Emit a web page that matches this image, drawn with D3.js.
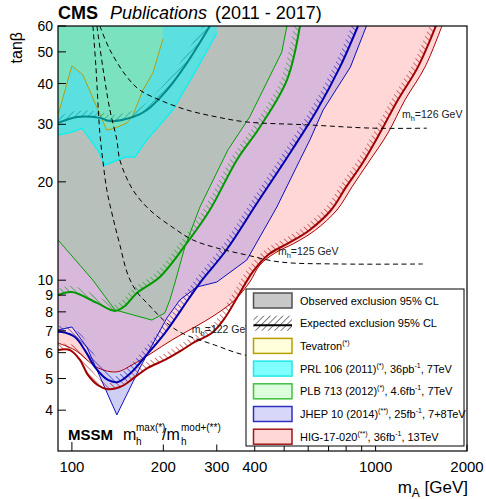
<!DOCTYPE html>
<html>
<head>
<meta charset="utf-8">
<script src="https://cdn.jsdelivr.net/npm/d3@7"></script>
<style>
  body { margin: 0; background: #fff; }
  svg { display: block; font-family: "Liberation Sans", Arial, Helvetica, sans-serif; }
</style>
</head>
<body>
<svg id="chart" width="486" height="499"></svg>
<script>
// ---------- axis ticks ----------
const xMajorTicks = [100, 1000];
const xMinorTicks = [200, 300, 400, 500, 600, 700, 800, 900, 2000];
const xTickLabels = [100, 200, 300, 400, 1000, 2000];
const yTickValues = [4, 5, 6, 7, 8, 9, 10, 20, 30, 40, 50, 60];

// ---------- exclusion contours: [mA (GeV), tanβ] ----------
// HIG-17-020, 36 fb-1, 13 TeV
const higObs = [[90,6.42],[102.3,6.11],[121.8,5.39],[140.6,5.24],[157.6,5.50],[183.4,5.99],[213.4,6.56],[254,7.19],[295.5,7.82],[344,8.70],[385,9.87],[416,11.13],[466,12.11],[542,13.0],[631,14.2],[746,16.4],[836,19.3],[943,22.8],[1098,28.2],[1249,35.6],[1454,44.9],[1654,60]];
const higExp = [[90,6.11],[98.5,6.11],[106.3,5.70],[112.9,5.13],[121.8,4.77],[131.4,4.64],[146.1,4.74],[161.2,5.05],[177.9,5.39],[202.4,5.70],[230.2,6.11],[254,6.47],[288.9,6.89],[318.8,7.66],[357.3,9.14],[394.1,10.6],[445,12.0],[518,13.0],[604,14.2],[714,16.4],[800,19.3],[905,22.8],[1033,28.2],[1184,35.6],[1378,44.9],[1580,60]];
// JHEP 10 (2014), 25 fb-1, 7+8 TeV
const jhepObs = [[90,7.04],[100,7.19],[112,6.24],[140.6,3.87],[167.4,5.39],[187.6,6.56],[205.5,7.66],[226.7,8.70],[257.9,9.53],[300,9.87],[376.7,11.53],[473,16.75],[563,23.3],[608,26.9],[672,33.2],[826,44.9],[933,60]];
const jhepExp = [[90,6.94],[92.7,6.94],[102.3,6.70],[110.3,6.11],[119.1,5.42],[131.4,4.95],[141.7,4.88],[157.6,5.24],[173.9,5.82],[202.4,6.89],[241,8.70],[263.8,9.80],[322.6,12.37],[406.7,17.2],[530,25.0],[641.5,33.2],[763,44.9],[875,60]];
// PLB 713 (2012), 4.6 fb-1, 7 TeV
const plbObs = [[90,13.28],[117.3,10.0],[138.5,8.11],[183.4,7.55],[202.4,7.94],[210.2,8.70],[218.3,9.80],[235.5,12.64],[264,16.75],[326,25.0],[385,31.6],[491,49.9],[510.5,60]];
const plbExp = [[90,9.01],[100,9.20],[120.9,8.52],[138.5,8.05],[149.5,8.34],[163.7,9.14],[194.8,10.23],[239.1,13.0],[284.6,16.4],[349,23.3],[415.6,29.4],[510.5,41.0],[563.5,60]];
// PRL 106 (2011), 36 pb-1, 7 TeV
const prlObs = [[90,27.8],[100,28.4],[107.9,29.2],[121.8,25.0],[128.4,22.5],[149.5,23.8],[161.2,23.8],[176.6,26.9],[215,33.2],[259.8,44.9],[300,57.1],[300,60]];
const prlExp = [[90,30.3],[103.9,31.6],[123.6,31.4],[133.4,30.7],[158.8,31.6],[176.6,33.2],[205.5,38.2],[239.1,46.2],[284.6,60]];
// Tevatron
const tevObs = [[90,32.0],[100,45.3],[108.7,42.5],[130.3,28.8],[138.5,29.2],[151.8,30.3],[158.8,32.0],[171.3,38.2],[184.8,43.1],[199.3,54.7],[199.3,60]];

// ---------- mh contours ----------
const mh122 = [[117.3,60],[120.0,44.9],[123.6,28.2],[126.4,23.3],[130.3,18.9],[136.4,15.6],[143.9,12.81],[153,10.37],[163.7,9.20],[176.6,8.52],[205.5,7.39],[230.2,6.89],[295.5,6.33],[371,5.90],[563.5,5.62]];
const mh125 = [[120.9,60],[126.4,44.9],[133.4,33.2],[140.6,26.9],[143.9,23.3],[158.8,18.9],[180.6,16.4],[215,14.5],[250.2,13.28],[300,12.55],[376.7,11.94],[483.9,11.37],[764.5,11.21],[1431,11.21]];
const mh126 = [[123.6,60],[133.4,50.7],[151.8,41.9],[167.4,38.2],[194.8,35.6],[239.1,33.2],[300,31.6],[376.7,30.5],[594,29.9],[983.7,29.2],[1476,29.2]];
const mhLabelValues = ["126", "125", "122"];
const mhLabelAnchors = [[1221, 31.4], [477, 11.94], [248.3, 6.89]];

// ---------- legend ----------
const legendLabels = [
  [["Observed exclusion 95% CL"]],
  [["Expected exclusion 95% CL"]],
  [["Tevatron"], ["(*)", "sup"]],
  [["PRL 106 (2011)"], ["(*)", "sup"], [", 36pb"], ["-1", "sup"], [", 7TeV"]],
  [["PLB 713 (2012)"], ["(*)", "sup"], [", 4.6fb"], ["-1", "sup"], [", 7TeV"]],
  [["JHEP 10 (2014)"], ["(**)", "sup"], [", 25fb"], ["-1", "sup"], [", 7+8TeV"]],
  [["HIG-17-020"], ["(**)", "sup"], [", 36fb"], ["-1", "sup"], [", 13TeV"]]
];

// ---------- setup ----------
const svg = d3.select("#chart");
const x = d3.scaleLog().domain([90, 2000]).range([58, 467]);
const y = d3.scaleLog().domain([3, 60]).range([451, 26]);
const defs = svg.append("defs");

defs.append("clipPath").attr("id", "plotClip")
  .append("rect").attr("x", 58).attr("y", 26).attr("width", 409).attr("height", 425);

function hatchPattern(id, color, angle) {
  const p = defs.append("pattern").attr("id", id)
    .attr("patternUnits", "userSpaceOnUse").attr("width", 4.5).attr("height", 4.5)
    .attr("patternTransform", `rotate(${angle})`);
  p.append("line").attr("x1", 0).attr("y1", 0).attr("x2", 0).attr("y2", 4.5)
    .attr("stroke", color).attr("stroke-width", 1);
}
hatchPattern("hatchRed", "#a00000", -45);
hatchPattern("hatchBlue", "#0000b0", -45);
hatchPattern("hatchGreen", "#009a00", -45);
hatchPattern("hatchTeal", "#008c8c", 45);
hatchPattern("hatchBlack", "#000", 45);

const smooth = d3.line().x(d => x(d[0])).y(d => y(d[1])).curve(d3.curveCatmullRom.alpha(0.5));
const straight = d3.line().x(d => x(d[0])).y(d => y(d[1]));
const region = (pts, gen) => gen(pts) + `L${x(90)},${y(60)}Z`;

defs.append("clipPath").attr("id", "higClip").append("path").attr("d", region(higObs, smooth));

const plot = svg.append("g").attr("clip-path", "url(#plotClip)");

// ---------- filled exclusion areas ----------
plot.append("path").attr("d", region(higObs, smooth)).attr("fill", "#ffd7d7");
plot.append("path").attr("d", region(jhepObs, straight)).attr("fill", "#cfcff6");
plot.append("g").attr("clip-path", "url(#higClip)")
  .append("path").attr("d", region(jhepObs, straight)).attr("fill", "#d8b9dc");
plot.append("path").attr("d", region(plbObs, straight)).attr("fill", "#b8c0bb");
plot.append("path").attr("d", region(prlObs, straight)).attr("fill", "#5cdfdf");
plot.append("path").attr("d", region(tevObs, straight)).attr("fill", "#7be2c0");

// ---------- observed contour lines ----------
plot.append("path").attr("d", smooth(higObs)).attr("fill", "none").attr("stroke", "#b00000").attr("stroke-width", 1);
plot.append("path").attr("d", straight(jhepObs)).attr("fill", "none").attr("stroke", "#1010c0").attr("stroke-width", 1);
plot.append("path").attr("d", straight(plbObs)).attr("fill", "none").attr("stroke", "#00a000").attr("stroke-width", 1);
plot.append("path").attr("d", straight(prlObs.slice(0, -1))).attr("fill", "none").attr("stroke", "#00f4f4").attr("stroke-width", 1.2);
plot.append("path").attr("d", straight(tevObs.slice(0, -1))).attr("fill", "none").attr("stroke", "#b0a010").attr("stroke-width", 1);

// ---------- expected contours with hatching on the excluded side ----------
function expected(pts, color, pattern) {
  const line = plot.append("path").attr("d", smooth(pts)).attr("fill", "none")
    .attr("stroke", color).attr("stroke-width", 2);
  const node = line.node();
  const L = node.getTotalLength();
  const n = Math.max(2, Math.ceil(L / 2));
  const s = d3.range(n + 1).map(i => { const p = node.getPointAtLength(L * i / n); return [p.x, p.y]; });
  const w = 6;
  const off = s.map((p, i) => {
    const a = s[Math.max(0, i - 1)], b = s[Math.min(s.length - 1, i + 1)];
    let dx = b[0] - a[0], dy = b[1] - a[1];
    const len = Math.hypot(dx, dy) || 1;
    dx /= len; dy /= len;
    return [p[0] + dy * w, p[1] - dx * w];
  });
  plot.insert("path", () => node)
    .attr("d", "M" + s.concat(off.reverse()).map(p => p.join(",")).join("L") + "Z")
    .attr("fill", `url(#${pattern})`);
}
expected(higExp, "#a00000", "hatchRed");
expected(jhepExp, "#0000b0", "hatchBlue");
expected(plbExp, "#009a00", "hatchGreen");
expected(prlExp, "#008c8c", "hatchTeal");

// ---------- mh iso-lines ----------
[mh122, mh125, mh126].forEach(c => {
  plot.append("path").attr("d", smooth(c)).attr("fill", "none")
    .attr("stroke", "#000").attr("stroke-width", 1).attr("stroke-dasharray", "5,3.5");
});
mhLabelValues.forEach((v, i) => {
  const t = plot.append("text").attr("x", x(mhLabelAnchors[i][0])).attr("y", y(mhLabelAnchors[i][1]))
    .attr("font-size", 10.5).attr("fill", "#222");
  t.append("tspan").text("m");
  t.append("tspan").attr("font-size", 7.5).attr("dy", 3).text("h");
  t.append("tspan").attr("dy", -3).text(`=${v} GeV`);
});

// ---------- axes ----------
const axes = svg.append("g");
axes.append("rect").attr("x", 58).attr("y", 26).attr("width", 409).attr("height", 425)
  .attr("fill", "none").attr("stroke", "#000").attr("stroke-width", 1.2);
yTickValues.forEach(v => {
  axes.append("line").attr("x1", 58).attr("x2", 66).attr("y1", y(v)).attr("y2", y(v)).attr("stroke", "#000");
  axes.append("text").attr("x", 53).attr("y", y(v)).attr("dy", "0.36em").attr("text-anchor", "end")
    .attr("font-size", 14).text(v);
});
xMajorTicks.forEach(v => {
  axes.append("line").attr("x1", x(v)).attr("x2", x(v)).attr("y1", 451).attr("y2", 442).attr("stroke", "#000");
});
xMinorTicks.forEach(v => {
  axes.append("line").attr("x1", x(v)).attr("x2", x(v)).attr("y1", 451).attr("y2", 444.5).attr("stroke", "#000");
});
xTickLabels.forEach(v => {
  axes.append("text").attr("x", x(v)).attr("y", 472).attr("text-anchor", "middle").attr("font-size", 15).text(v);
});

// axis titles
const xt = svg.append("text").attr("x", 468).attr("y", 493).attr("text-anchor", "end").attr("font-size", 17);
xt.append("tspan").text("m");
xt.append("tspan").attr("font-size", 12).attr("dy", 4).text("A");
xt.append("tspan").attr("dy", -4).text(" [GeV]");
svg.append("text").attr("transform", "translate(22,32) rotate(-90)").attr("text-anchor", "end")
  .attr("font-size", 16).text("tanβ");

// title
svg.append("text").attr("x", 58).attr("y", 19).attr("font-size", 18).attr("font-weight", "bold").text("CMS");
svg.append("text").attr("x", 110).attr("y", 19).attr("font-size", 18).attr("font-style", "italic").text("Publications");
svg.append("text").attr("x", 215).attr("y", 19).attr("font-size", 18).text("(2011 - 2017)");

// model label
svg.append("text").attr("x", 68).attr("y", 440).attr("font-size", 15).attr("font-weight", "bold").text("MSSM");
svg.append("text").attr("x", 123).attr("y", 440).attr("font-size", 16).text("m");
svg.append("text").attr("x", 136).attr("y", 445).attr("font-size", 10).text("h");
svg.append("text").attr("x", 136).attr("y", 431).attr("font-size", 10).text("max(*)");
svg.append("text").attr("x", 162).attr("y", 440).attr("font-size", 16).text("/m");
svg.append("text").attr("x", 181).attr("y", 445).attr("font-size", 10).text("h");
svg.append("text").attr("x", 181).attr("y", 431).attr("font-size", 10).text("mod+(**)");

// ---------- legend ----------
const swatchFill = ["#c8c8c8", "url(#hatchBlack)", "#ffffdc", "#80ffff", "#dcffdc", "#d7d7fa", "#ffd7d7"];
const swatchStroke = ["#505050", "none", "#b4a000", "#20e8e8", "#40c040", "#3030c0", "#a01818"];
const leg = svg.append("g");
leg.append("rect").attr("x", 246).attr("y", 289).attr("width", 218).attr("height", 157)
  .attr("fill", "#fff").attr("stroke", "#000").attr("stroke-width", 1);
legendLabels.forEach((segs, i) => {
  const cy = 300.5 + i * 22.7;
  leg.append("rect").attr("x", 253.5).attr("y", cy - 7.5).attr("width", 38.5).attr("height", 15)
    .attr("fill", swatchFill[i]).attr("stroke", swatchStroke[i]).attr("stroke-width", 1.5);
  if (i === 1) {
    leg.append("line").attr("x1", 253.5).attr("x2", 292).attr("y1", cy + 2).attr("y2", cy + 2)
      .attr("stroke", "#000").attr("stroke-width", 2);
  }
  const t = leg.append("text").attr("x", 300).attr("y", cy + 4).attr("font-size", 11);
  let up = false;
  segs.forEach(([s, kind]) => {
    const ts = t.append("tspan").text(s);
    if (kind === "sup" && !up) { ts.attr("font-size", 7).attr("dy", -5); up = true; }
    else if (kind !== "sup" && up) { ts.attr("dy", 5); up = false; }
  });
});
</script>
</body>
</html>
